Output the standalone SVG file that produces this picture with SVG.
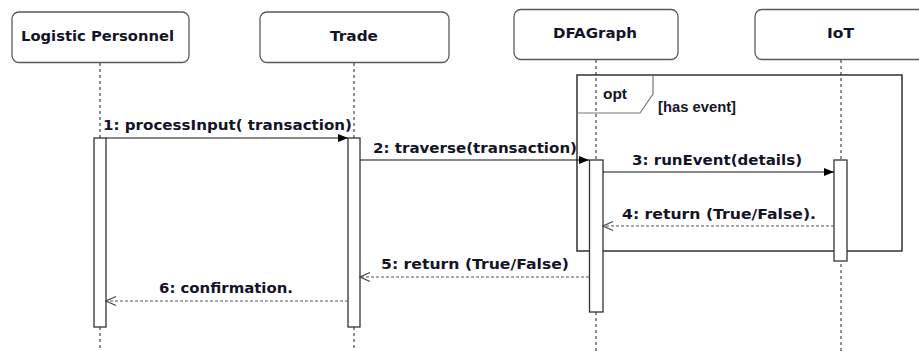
<svg xmlns="http://www.w3.org/2000/svg" width="919" height="351" viewBox="0 0 919 351">
<defs>
<style>
.hdr{fill:#fff;stroke:#5a5a5a;stroke-width:1.3}
.life{stroke:#555;stroke-width:1.3;stroke-dasharray:3,3;fill:none}
.act{fill:#fff;stroke:#333;stroke-width:1.3}
.t{font-family:"DejaVu Sans",Verdana,sans-serif;font-weight:bold;font-size:14px;fill:#141428}
.ta{font-family:"Liberation Sans",Arial,sans-serif;font-weight:bold;font-size:14px;fill:#141428}
.msg{stroke:#111;stroke-width:1.2;fill:none}
.ret{stroke:#555;stroke-width:1.2;stroke-dasharray:3,2;fill:none}
</style>
<marker id="filled" viewBox="0 0 10 10" refX="10" refY="5" markerWidth="10" markerHeight="10" markerUnits="userSpaceOnUse" orient="auto">
<path d="M0,1 L10,5 L0,9 Z" fill="#000"/>
</marker>
<marker id="open" viewBox="0 0 12 12" refX="11" refY="6" markerWidth="12" markerHeight="12" markerUnits="userSpaceOnUse" orient="auto">
<path d="M1,1.5 L11,6 L1,10.5" fill="none" stroke="#444" stroke-width="1.1"/>
</marker>
</defs>
<rect width="919" height="351" fill="#fff"/>

<g id="lifelines">
<line class="life" x1="100" y1="63" x2="100" y2="351"/>
<line class="life" x1="354" y1="63" x2="354" y2="351"/>
<line class="life" x1="596" y1="60" x2="596" y2="351"/>
<line class="life" x1="841" y1="60" x2="841" y2="351"/>
</g>

<g id="opt-frame">
<rect x="577" y="75" width="325" height="176" fill="none" stroke="#111" stroke-width="1.3"/>
<path d="M577,113 L640,113 L653,94 L653,75" fill="none" stroke="#777" stroke-width="1.2"/>
<text class="ta" x="603" y="99" textLength="24" lengthAdjust="spacingAndGlyphs">opt</text>
<text class="ta" x="658" y="112" textLength="78" lengthAdjust="spacingAndGlyphs">[has event]</text>
</g>

<g id="logistic-personnel">
<rect class="hdr" x="12" y="12" width="177" height="50.5" rx="7"/>
<text class="t" x="21" y="41" textLength="153" lengthAdjust="spacingAndGlyphs">Logistic Personnel</text>
<rect class="act" x="94" y="138" width="12" height="189"/>
</g>

<g id="trade">
<rect class="hdr" x="260" y="12" width="189" height="50.5" rx="7"/>
<text class="t" x="330" y="41" textLength="48" lengthAdjust="spacingAndGlyphs">Trade</text>
<rect class="act" x="348" y="138" width="12" height="189"/>
</g>

<g id="dfagraph">
<rect class="hdr" x="514" y="9.5" width="164" height="50" rx="7"/>
<text class="t" x="553" y="38" textLength="84" lengthAdjust="spacingAndGlyphs">DFAGraph</text>
<rect class="act" x="589.5" y="160" width="13.5" height="152"/>
</g>

<g id="iot">
<rect class="hdr" x="755" y="9.5" width="172" height="50" rx="7"/>
<text class="t" x="827" y="38" textLength="27" lengthAdjust="spacingAndGlyphs">IoT</text>
<rect class="act" x="834" y="160" width="13" height="101"/>
</g>

<g id="connectors">
<line class="msg" x1="106" y1="138" x2="348" y2="138" marker-end="url(#filled)"/>
<line class="msg" x1="360" y1="160" x2="589" y2="160" marker-end="url(#filled)"/>
<line class="msg" x1="603" y1="172" x2="834" y2="172" stroke="#444" marker-end="url(#filled)"/>
<line class="ret" x1="834" y1="226" x2="603" y2="226" marker-end="url(#open)"/>
<line class="ret" x1="589" y1="277" x2="360" y2="277" marker-end="url(#open)"/>
<line class="ret" x1="348" y1="301" x2="106" y2="301" marker-end="url(#open)"/>
</g>

<g id="labels">
<text class="t" x="103" y="130" textLength="249" lengthAdjust="spacingAndGlyphs">1: processInput( transaction)</text>
<text class="t" x="373" y="153" textLength="204" lengthAdjust="spacingAndGlyphs">2: traverse(transaction)</text>
<text class="t" x="632" y="165" textLength="170" lengthAdjust="spacingAndGlyphs">3: runEvent(details)</text>
<text class="t" x="622" y="219" textLength="194" lengthAdjust="spacingAndGlyphs">4: return (True/False).</text>
<text class="t" x="381" y="269" textLength="188" lengthAdjust="spacingAndGlyphs">5: return (True/False)</text>
<text class="t" x="159" y="293" textLength="134" lengthAdjust="spacingAndGlyphs">6: confirmation.</text>
</g>
</svg>
